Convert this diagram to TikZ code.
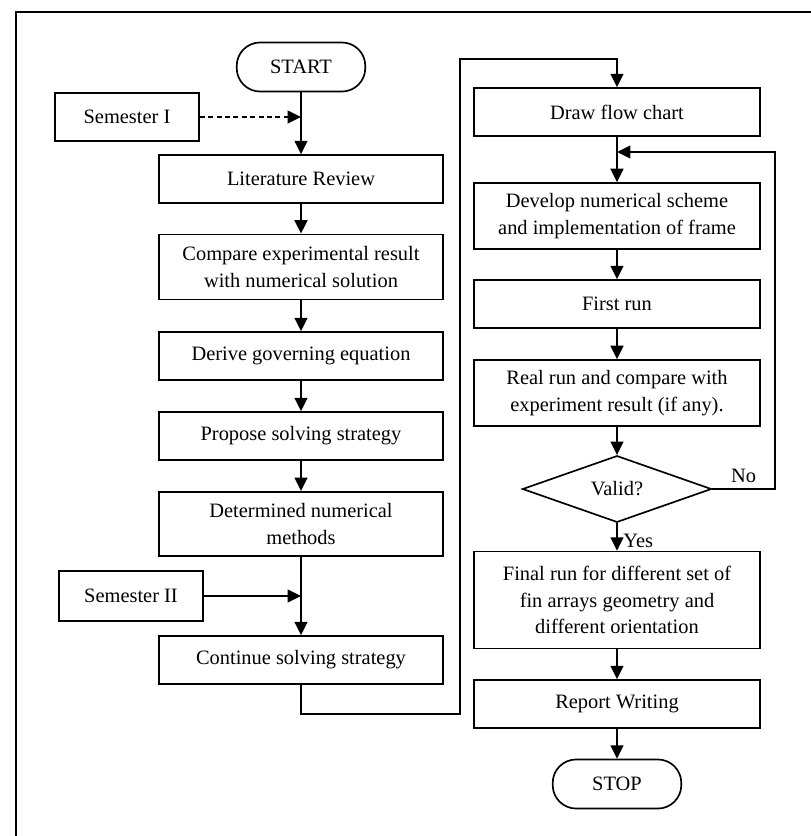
\documentclass[tikz,border=0pt]{standalone}
\usepackage{fontspec}
\setmainfont{Liberation Serif}
\usetikzlibrary{shapes.geometric,arrows.meta}
\tikzset{
  procbox/.style={draw, line width=1pt, rectangle, minimum width=5.96cm, minimum height=1.01cm, align=center, inner sep=2pt},
  sembox/.style={draw, line width=1pt, rectangle, minimum width=3.03cm, minimum height=1.01cm},
  termbox/.style={draw, line width=1pt, rectangle, rounded corners=14pt, minimum width=2.7cm, minimum height=1.03cm},
  decbox/.style={draw, line width=1pt, diamond, minimum width=3.97cm, minimum height=1.32cm, inner sep=0pt},
  flowline/.style={draw, line width=1pt, -{Triangle[length=2.8mm,width=2.7mm]}},
}
\begin{document}
\begin{tikzpicture}[x=0.021cm, y=-0.021cm, every node/.style={font=\fontsize{12.2}{16}\selectfont}]
\useasboundingbox (0,0) rectangle (811,836);
\draw[line width=1pt] (811,12) -- (16,12) -- (16,836);

% left column
\node[termbox] (start) at (301,67) {START};
\node[sembox] (sem1) at (127,117) {Semester I};
\node[procbox] (litrev) at (301,179) {Literature Review};
\node[procbox, minimum height=1.37cm] (compare) at (301,267) {Compare experimental result\\with numerical solution};
\node[procbox] (derive) at (301,356) {Derive governing equation};
\node[procbox] (propose) at (301,436) {Propose solving strategy};
\node[procbox, minimum height=1.35cm] (determ) at (301,524) {Determined numerical\\methods};
\node[sembox, minimum height=1.05cm] (sem2) at (131,596) {Semester II};
\node[procbox] (contin) at (301,660) {Continue solving strategy};

% right column
\node[procbox, minimum width=6.0cm] (drawchart) at (617,112) {Draw flow chart};
\node[procbox, minimum width=6.0cm, minimum height=1.39cm] (develop) at (617,216) {Develop numerical scheme\\and implementation of frame};
\node[procbox, minimum width=6.0cm] (firstrun) at (617,304) {First run};
\node[procbox, minimum width=6.0cm, minimum height=1.39cm] (realrun) at (617,393) {Real run and compare with\\experiment result (if any).};
\node[decbox] (valid) at (617,489) {Valid?};
\node[procbox, minimum width=6.0cm, minimum height=2.04cm] (finalrun) at (617,600) {Final run for different set of\\fin arrays geometry and\\different orientation};
\node[procbox, minimum width=6.0cm] (report) at (617,704) {Report Writing};
\node[termbox] (stop) at (617,784) {STOP};

\coordinate (lowturn) at (460,714);
\coordinate (highturn) at (460,59);
\coordinate (loopright) at (775,152);
\coordinate (loopjoin) at (617,152);

\path[flowline] (start) -- (litrev);
\path[flowline, densely dashed] (sem1) -- (sem1 -| start);
\path[flowline] (litrev) -- (compare);
\path[flowline] (compare) -- (derive);
\path[flowline] (derive) -- (propose);
\path[flowline] (propose) -- (determ);
\path[flowline] (determ) -- (contin);
\path[flowline] (sem2) -- (sem2 -| contin);
\path[flowline] (contin) |- (lowturn) -- (highturn) -| (drawchart);

\path[flowline] (drawchart) -- (develop);
\path[flowline] (develop) -- (firstrun);
\path[flowline] (firstrun) -- (realrun);
\path[flowline] (realrun) -- (valid);
\path[flowline] (valid.east) -- node[above] {No} (valid -| loopright) -- (loopright) -- (loopjoin);
\path[flowline] (valid) -- node[right, pos=0.65] {Yes} (finalrun);
\path[flowline] (finalrun) -- (report);
\path[flowline] (report) -- (stop);
\end{tikzpicture}
\end{document}
